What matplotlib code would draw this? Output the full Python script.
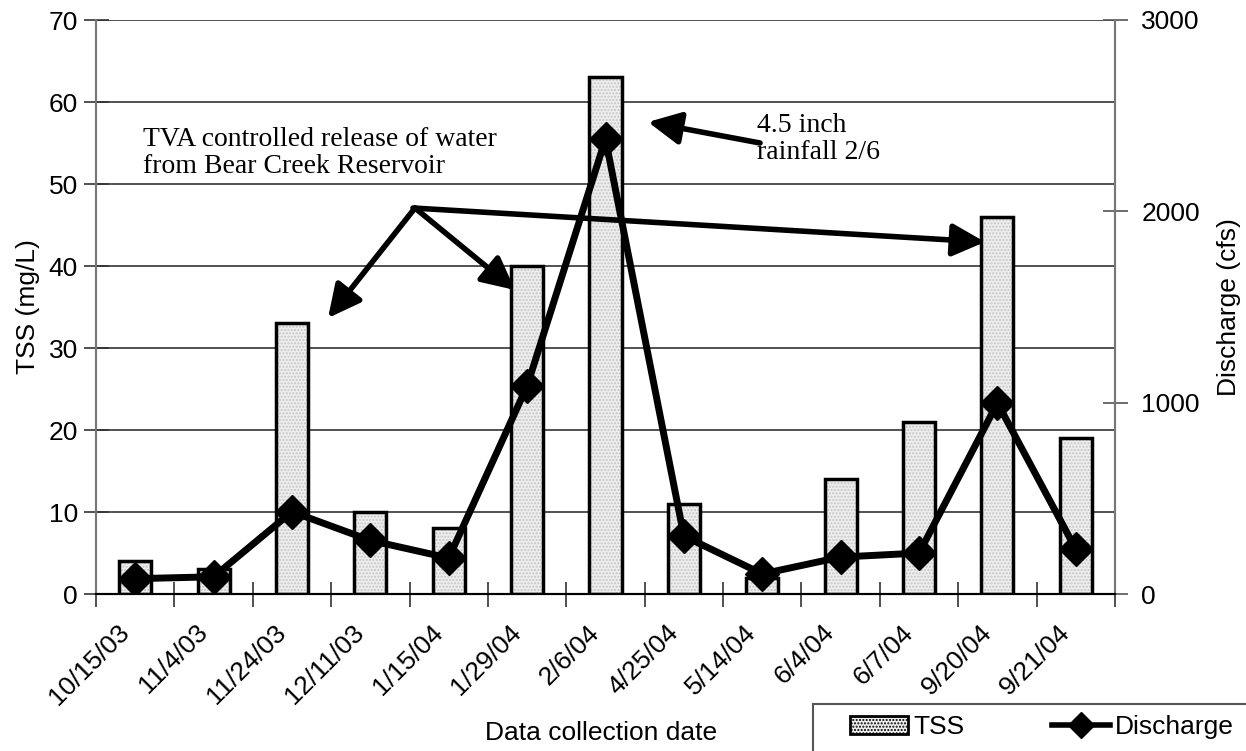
import matplotlib
matplotlib.use("Agg")
import matplotlib.pyplot as plt
import matplotlib.transforms as mtransforms
from matplotlib.patches import Patch, Rectangle
from matplotlib.lines import Line2D
import numpy as np

dates = ["10/15/03", "11/4/03", "11/24/03", "12/11/03", "1/15/04", "1/29/04", "2/6/04",
         "4/25/04", "5/14/04", "6/4/04", "6/7/04", "9/20/04", "9/21/04"]
tss = [4, 3, 33, 10, 8, 40, 63, 11, 2, 14, 21, 46, 19]
discharge = [80, 90, 430, 280, 188, 1087, 2378, 303, 105, 193, 214, 998, 235]

plt.rcParams['font.family'] = ['Liberation Sans', 'DejaVu Sans']
FS = 19
W, H = 1246, 751
fig = plt.figure(figsize=(W / 100, H / 100), dpi=100)
ax = fig.add_axes([96 / W, 1 - 594 / H, (1115 - 96) / W, (594 - 20) / H])
ax2 = ax.twinx()

x = np.arange(len(dates))
bar_fc = '#eeeeee'
ax.bar(x, tss, width=0.41, color=bar_fc, edgecolor='#c4c4c4', hatch='.....', linewidth=0, zorder=2)
ax.bar(x, tss, width=0.41, color='none', edgecolor='black', linewidth=2.5, zorder=3)

ax.set_xlim(-0.5, len(dates) - 0.5)
ax.set_ylim(0, 70)
ax.set_yticks(range(0, 71, 10))
ax.grid(axis='y', color='#333333', linewidth=1.2, zorder=1)
ax.set_axisbelow(True)

ax.set_xticks(x)
ax.set_xticklabels(dates, rotation=45, ha='right', va='center', rotation_mode='anchor')
ax.tick_params(axis='x', length=0, pad=25, labelsize=FS)
offset = mtransforms.ScaledTranslation(-7 / 72, 0, fig.dpi_scale_trans)
for lab in ax.get_xticklabels():
    lab.set_transform(lab.get_transform() + offset)
ax.set_xticks(np.arange(-0.5, len(dates), 1.0), minor=True)
ax.tick_params(axis='x', which='minor', direction='inout', length=18, width=1.2, color='#333333')
ax.tick_params(axis='y', direction='inout', length=18, width=1.2, color='#333333', labelsize=FS, pad=4)

ax2.plot(x, discharge, color='black', linewidth=5, marker='D', markersize=17, zorder=5)
ax2.set_ylim(0, 3000)
ax2.set_yticks([0, 1000, 2000, 3000])
ax2.tick_params(axis='y', direction='inout', length=18, width=1.2, color='#555555', labelsize=FS, pad=10)

for a in (ax, ax2):
    a.spines['top'].set_visible(False)
    a.spines['left'].set_color('#777777')
    a.spines['left'].set_linewidth(1.5)
    a.spines['right'].set_color('#777777')
    a.spines['right'].set_linewidth(1.5)
    a.spines['bottom'].set_color('black')
    a.spines['bottom'].set_linewidth(1.5)

ax.set_ylabel("TSS (mg/L)", fontsize=FS, labelpad=6)
ax2.set_ylabel("Discharge (cfs)", fontsize=FS, labelpad=12)
fig.text(601 / W, 1 - 733 / H, "Data collection date", fontsize=FS, ha='center', va='center')

# annotations
def fp(px, py):
    return (px / W, 1 - py / H)

fig.text(*fp(143, 127), "TVA controlled release of water\nfrom Bear Creek Reservoir",
         family='Liberation Serif', fontsize=20, ha='left', va='top', linespacing=1.1)
fig.text(*fp(757, 113), "4.5 inch\nrainfall 2/6",
         family='Liberation Serif', fontsize=20, ha='left', va='top', linespacing=1.1)

aprops = dict(arrowstyle='-|>,head_length=0.9,head_width=0.45', lw=4, color='black',
              shrinkA=0, shrinkB=0, mutation_scale=22)
for tail, head in [((415, 208), (328, 318)), ((415, 208), (515, 290)),
                   ((413, 208), (985, 242)), ((760, 143), (648, 122))]:
    fig.add_artist(matplotlib.text.Annotation("", xy=fp(*head), xytext=fp(*tail),
                                              xycoords='figure fraction', textcoords='figure fraction',
                                              arrowprops=aprops))

# legend
fig.add_artist(Rectangle(fp(813, 780), 0.5, (780 - 704) / H, transform=fig.transFigure,
                         facecolor='none', edgecolor='#555555', linewidth=1.5, clip_on=False))
handles = [Patch(facecolor=bar_fc, edgecolor='black', hatch='.....', linewidth=2),
           Line2D([0], [0], color='black', linewidth=4, marker='D', markersize=13)]
fig.legend(handles, ["TSS", "Discharge"], loc='center left', bbox_to_anchor=fp(850, 727),
           ncol=2, frameon=False, fontsize=FS, handlelength=2.2, handleheight=0.7,
           handletextpad=0.2, columnspacing=3.3, borderpad=0, borderaxespad=0)

fig.savefig("out.png", dpi=100)
